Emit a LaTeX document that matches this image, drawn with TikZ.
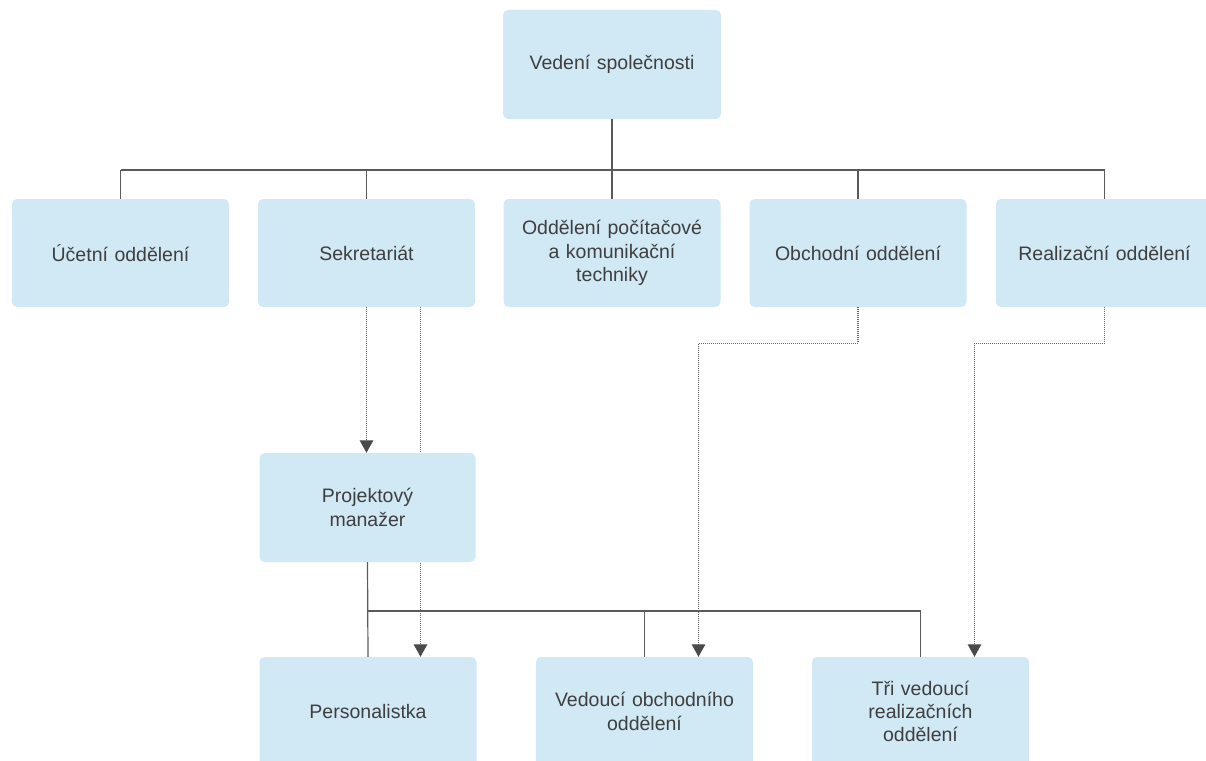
\documentclass[tikz,border=0pt]{standalone}
\usepackage{fontspec}
\setmainfont{Liberation Sans}
\usetikzlibrary{arrows.meta,backgrounds}
\definecolor{boxfill}{HTML}{D1E8F5}
\definecolor{txt}{HTML}{3F3F3F}
\definecolor{lin}{HTML}{5A5A5A}
\definecolor{dotc}{HTML}{666666}
\definecolor{arr}{HTML}{4A4A4A}
\tikzset{
  orgbox/.style={fill=boxfill, draw=none, rounded corners=5pt, text=txt, align=center,
    font=\fontsize{19.5}{23.4}\selectfont, inner sep=0pt, text width=200pt},
  rowbox/.style={orgbox, minimum width=217pt, minimum height=108pt},
  conn/.style={draw=lin, line width=1.2pt},
  dotconn/.style={draw=dotc, line width=1.3pt, dash pattern=on 1pt off 1pt,
    -{Triangle[width=13.5pt,length=12.5pt,color=arr]}},
}
\begin{document}
\begin{tikzpicture}[x=1pt,y=-1pt]
\useasboundingbox (0,0) rectangle (1206,760);
\clip (0,0) rectangle (1206,760);
\node[rowbox, minimum width=218pt, minimum height=109pt] (top) at (612,64.5) {Vedení společnosti};
\node[rowbox] (r1) at (120.5,253) {Účetní oddělení};
\node[rowbox] (r2) at (366.5,253) {Sekretariát};
\node[rowbox] (r3) at (612,253) {Oddělení počítačové\\a komunikační\\techniky};
\node[rowbox] (r4) at (858,253) {Obchodní oddělení};
\node[rowbox] (r5) at (1104.5,253) {Realizační oddělení};
\node[rowbox, minimum width=216pt, minimum height=109pt] (pm) at (367.5,507.5) {Projektový\\manažer};
\node[rowbox, minimum height=109pt] (pers) at (368,711.5) {Personalistka};
\node[rowbox, minimum height=109pt] (ved) at (644.5,711.5) {Vedoucí obchodního\\oddělení};
\node[rowbox, minimum height=109pt] (tri) at (920.5,711.5) {Tři vedoucí\\realizačních\\oddělení};
\coordinate (bus) at (0,170);
\coordinate (bus2) at (0,611);
% top level connectors
\draw[conn] (top.south) -- (top.south |- bus);
\draw[conn] (r1.north |- bus) -- (r5.north |- bus);
\foreach \n in {r1,r2,r3,r4,r5} \draw[conn] (\n.north |- bus) -- (\n.north);
% lower connectors
\draw[conn] (pm.south) -- (pers.north);
\draw[conn] (pm.south |- bus2) -| (tri.north);
\draw[conn] (ved.north |- bus2) -- (ved.north);
% dotted
\draw[dotconn] (r2.south) -- (r2.south |- pm.north);
\begin{scope}[on background layer]
\draw[dotconn] ([xshift=54pt]r2.south) -- ([xshift=54pt]r2.south |- pers.north);
\end{scope}
\draw[dotconn] (r4.south) -- ++(0,36) -| ([xshift=54pt]ved.north);
\draw[dotconn] (r5.south) -- ++(0,36) -| ([xshift=54pt]tri.north);
\end{tikzpicture}
\end{document}
